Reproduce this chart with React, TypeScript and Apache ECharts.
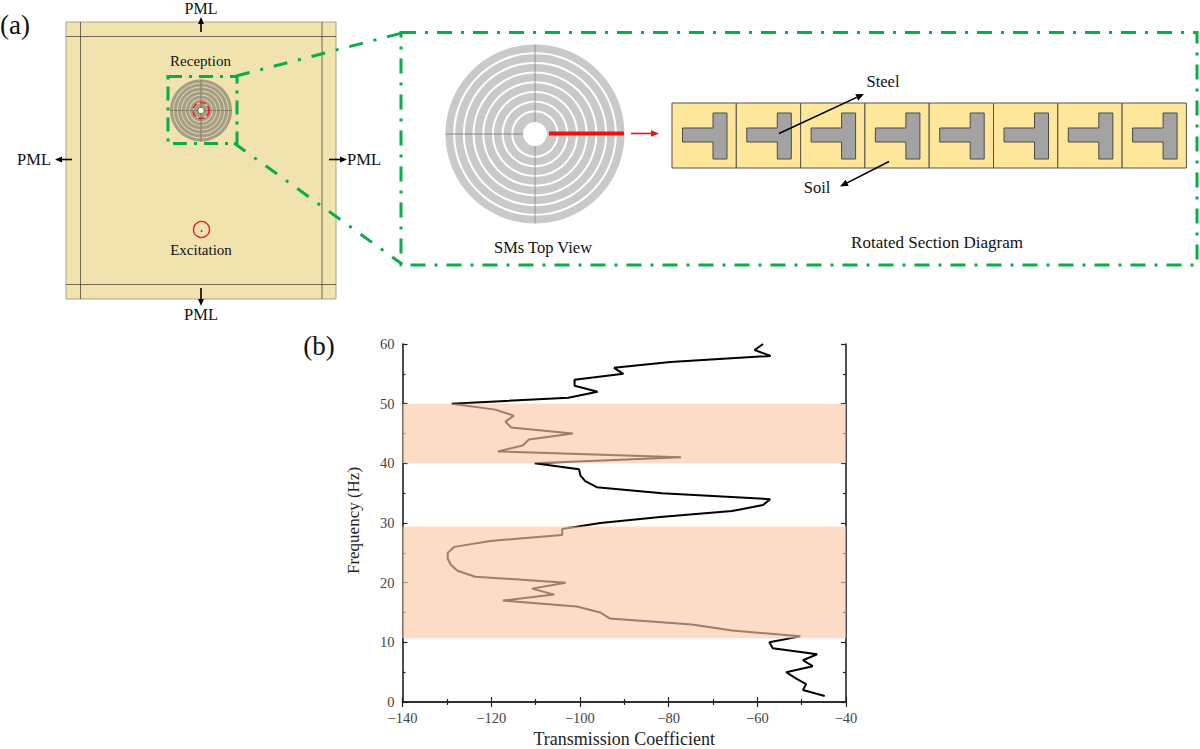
import React, { useEffect, useRef } from "react";
import * as echarts from "echarts";

const frequencyHz = [
  1, 2, 3, 4, 5, 6, 7, 8, 9, 10, 11, 12, 13, 14, 15, 16, 17, 18, 19, 20,
  21, 22, 23, 24, 25, 26, 27, 28, 29, 30, 31, 32, 33, 34, 35, 36, 37, 38, 39, 40,
  41, 42, 43, 44, 45, 46, 47, 48, 49, 50, 51, 52, 53, 54, 55, 56, 57, 58, 59, 60,
];
const transmission = [
  -44.8, -49.7, -49, -51.4, -53.5, -47.5, -49.7, -46.5, -56.5, -57.3,
  -50.3, -65.7, -74.7, -93.3, -95.4, -100.7, -117.4, -105.8, -110.8, -103.2,
  -123.6, -127.6, -129.1, -129.8, -129.8, -128.3, -120.2, -104, -104, -95.4,
  -81.9, -65.7, -58.7, -57.1, -81.5, -96.2, -98.8, -99.9, -100.2, -110.2,
  -77.2, -118.5, -112.9, -111.5, -101.6, -115.5, -116.8, -114.9, -119.1, -128.9,
  -102.6, -96, -101.2, -101.2, -90.2, -92.3, -79.6, -57, -60.6, -58.7,
];
const bandLower = [10.7, 40];
const bandUpper = [29.4, 50];
const xAxisTitle = "Transmission Coefficient";
const yAxisTitle = "Frequency (Hz)";

const SERIF = "'Liberation Serif', serif";
const GREEN = "#0bab4c";
const RED = "#ee1c25";

const label = (text: string, x: number, y: number, fontSize = 16.5, rotation = 0) => ({
  type: "text",
  x,
  y,
  rotation,
  z: 20,
  style: {
    text,
    x: 0,
    y: 0,
    fill: "#111",
    font: `${fontSize}px ${SERIF}`,
    align: "center",
    verticalAlign: "middle",
  },
});

const seg = (x1: number, y1: number, x2: number, y2: number, stroke: string, lineWidth = 1, lineDash?: number[], z = 10) => ({
  type: "line",
  z,
  shape: { x1, y1, x2, y2 },
  style: { stroke, lineWidth, lineDash, fill: null },
});

const arrow = (x1: number, y1: number, x2: number, y2: number, color = "#000", lineWidth = 1.6, head = 7) => {
  const a = Math.atan2(y2 - y1, x2 - x1);
  const bx = x2 - head * Math.cos(a);
  const by = y2 - head * Math.sin(a);
  const nx = -Math.sin(a) * head * 0.42;
  const ny = Math.cos(a) * head * 0.42;
  return [
    seg(x1, y1, bx, by, color, lineWidth, undefined, 12),
    {
      type: "polygon",
      z: 12,
      shape: { points: [[x2, y2], [bx + nx, by + ny], [bx - nx, by - ny]] },
      style: { fill: color },
    },
  ];
};

const disc = (cx: number, cy: number, r: number, rings: number, hole: number, fill: string, gap: number, gapFill: string, z = 8) => {
  const out: any[] = [];
  const step = (r - hole) / rings;
  out.push({ type: "circle", z, shape: { cx, cy, r }, style: { fill: gapFill } });
  for (let i = 0; i < rings; i++) {
    out.push({
      type: "ring",
      z: z + 1,
      shape: { cx, cy, r0: hole + i * step + (i === 0 ? 0 : gap), r: hole + (i + 1) * step },
      style: { fill },
    });
  }
  return out;
};

const sectionCell = (x: number) => [
  {
    type: "rect",
    z: 8,
    shape: { x, y: 103, width: 64.3, height: 65 },
    style: { fill: "#fee69b", stroke: "#55534a", lineWidth: 1 },
  },
  {
    type: "polygon",
    z: 9,
    shape: {
      points: [
        [x + 41, 113], [x + 55, 113], [x + 55, 159], [x + 41, 159],
        [x + 41, 142], [x + 10.5, 142], [x + 10.5, 128], [x + 41, 128],
      ],
    },
    style: { fill: "#a3a3a3", stroke: "#4a4a4a", lineWidth: 1 },
  },
];

const buildGraphics = () => {
  const cells: any[] = [];
  for (let i = 0; i < 8; i++) cells.push(...sectionCell(672 + i * 64.3));
  return [
    label("(a)", 15, 25, 27),
    label("(b)", 319, 346, 27),
    // Model square
    { type: "rect", z: 5, shape: { x: 66, y: 22, width: 270, height: 277 }, style: { fill: "#f1e3ae", stroke: "#a8a18a", lineWidth: 1 } },
    seg(80.5, 22, 80.5, 299, "#4d4a3c", 0.8),
    seg(322, 22, 322, 299, "#4d4a3c", 0.8),
    seg(66, 36.5, 336, 36.5, "#4d4a3c", 0.8),
    seg(66, 284.5, 336, 284.5, "#4d4a3c", 0.8),
    ...arrow(201, 32, 201, 17),
    ...arrow(201, 288, 201, 306),
    ...arrow(72, 159.5, 55, 159.5),
    ...arrow(329, 159.5, 347, 159.5),
    label("PML", 201, 8, 16),
    label("PML", 201, 314),
    label("PML", 34, 159.5),
    label("PML", 364, 159.5),
    label("Reception", 200.5, 61, 15),
    label("Excitation", 201, 250, 15),
    // Small disc
    ...disc(201, 110.5, 31, 7, 3, "#a69d82", 1, "#dcd5b8"),
    seg(170, 110.5, 232, 110.5, "#85806a", 1.2, undefined, 11),
    seg(201, 79.5, 201, 141.5, "#85806a", 1.2, undefined, 11),
    { type: "circle", z: 12, shape: { cx: 201, cy: 110.5, r: 3.2 }, style: { fill: "#fffbe6", stroke: "#6b6550", lineWidth: 1 } },
    { type: "circle", z: 12, shape: { cx: 201, cy: 110.5, r: 8 }, style: { fill: null, stroke: RED, lineWidth: 1.6, lineDash: [6, 3] } },
    { type: "circle", z: 12, shape: { cx: 201.5, cy: 229.5, r: 8 }, style: { fill: null, stroke: RED, lineWidth: 1.4 } },
    { type: "circle", z: 12, shape: { cx: 201.5, cy: 231, r: 1 }, style: { fill: "#555" } },
    // Green selection and zoom guides
    { type: "rect", z: 13, shape: { x: 168, y: 76.5, width: 69, height: 67 }, style: { fill: null, stroke: GREEN, lineWidth: 3, lineDash: [14, 7, 3, 7] } },
    seg(236, 76, 402, 33, GREEN, 3, [14, 11, 3, 11], 13),
    seg(234, 143, 402, 264, GREEN, 3, [14, 11, 3, 11], 13),
    { type: "rect", z: 13, shape: { x: 401, y: 32.5, width: 796, height: 232.5 }, style: { fill: null, stroke: GREEN, lineWidth: 3, lineDash: [15, 9, 3, 9] } },
    // Top view disc
    ...disc(535, 134, 89.5, 8, 12, "#c9c9c9", 2, "#ffffff"),
    seg(535, 44.5, 535, 122, "#85898a", 0.8, undefined, 11),
    seg(535, 146, 535, 223.5, "#85898a", 0.8, undefined, 11),
    seg(445.5, 134, 523, 134, "#6f7376", 0.8, undefined, 11),
    seg(549, 133.5, 624, 133.5, "#f01010", 4, undefined, 12),
    ...arrow(631, 133.5, 659, 133.5, "#f01010", 1.6, 8),
    // Section strip
    ...cells,
    ...arrow(779, 133.5, 864, 94, "#000", 1.6, 8),
    ...arrow(889, 161.5, 840, 186.5, "#000", 1.6, 8),
    label("Steel", 883, 81),
    label("Soil", 817, 187),
    label("SMs Top View", 543, 247),
    label("Rotated Section Diagram", 937, 242, 17),
  ];
};

const tickFont = { fontFamily: SERIF, fontSize: 14.5, color: "#444" };

export default function App() {
  const ref = useRef<HTMLDivElement>(null);
  useEffect(() => {
    document.body.style.margin = "0";
    const chart = echarts.init(ref.current!, undefined, { renderer: "svg" });
    const axisLine = { show: true, lineStyle: { color: "#222", width: 1.6 } };
    const axisTick = { show: true, inside: true, length: 5, lineStyle: { color: "#222", width: 1.2 } };
    const minorTick = { show: true, splitNumber: 2, length: 3, lineStyle: { color: "#222", width: 1.2 } };
    const xBase = { type: "value", min: -140, max: -40, interval: 20, splitLine: { show: false }, axisLine, axisTick, minorTick };
    const yBase = { type: "value", min: 0, max: 60, interval: 10, splitLine: { show: false }, axisLine, axisTick, minorTick };
    chart.setOption({
      animation: false,
      backgroundColor: "#fff",
      grid: { left: 402.5, right: 354, top: 344, bottom: 47, containLabel: false, outerBoundsMode: "none" },
      xAxis: [
        {
          ...xBase,
          position: "bottom",
          name: xAxisTitle,
          nameLocation: "middle",
          nameGap: 28,
          nameTextStyle: { fontFamily: SERIF, fontSize: 18, color: "#222" },
          axisLabel: { ...tickFont, margin: 8, formatter: (v: number) => String(v).replace("-", "\u2212") },
        },
        { ...xBase, position: "top", axisLabel: { show: false } },
      ],
      yAxis: [
        {
          ...yBase,
          position: "left",
          name: yAxisTitle,
          nameLocation: "middle",
          nameGap: 41,
          nameTextStyle: { fontFamily: SERIF, fontSize: 17, color: "#222", padding: [0, 0, 0, 5] },
          axisLabel: { ...tickFont, margin: 8 },
        },
        { ...yBase, position: "right", axisLabel: { show: false } },
      ],
      series: [
        {
          type: "line",
          name: "Transmission",
          z: 2,
          symbol: "none",
          lineStyle: { color: "#000", width: 2 },
          data: frequencyHz.map((f, i) => [transmission[i], f]),
          silent: true,
        },
        {
          type: "line",
          name: "Band gaps",
          z: 5,
          symbol: "none",
          data: [],
          silent: true,
          markArea: {
            silent: true,
            z: 10,
            itemStyle: { color: "rgba(250,200,165,0.63)" },
            data: bandLower.map((lo, i) => [{ yAxis: lo }, { yAxis: bandUpper[i] }]),
          },
        },
      ],
      graphic: { elements: buildGraphics() },
    });
    return () => chart.dispose();
  }, []);
  return <div ref={ref} style={{ position: "absolute", left: 0, top: 0, width: 1200, height: 749 }} />;
}
